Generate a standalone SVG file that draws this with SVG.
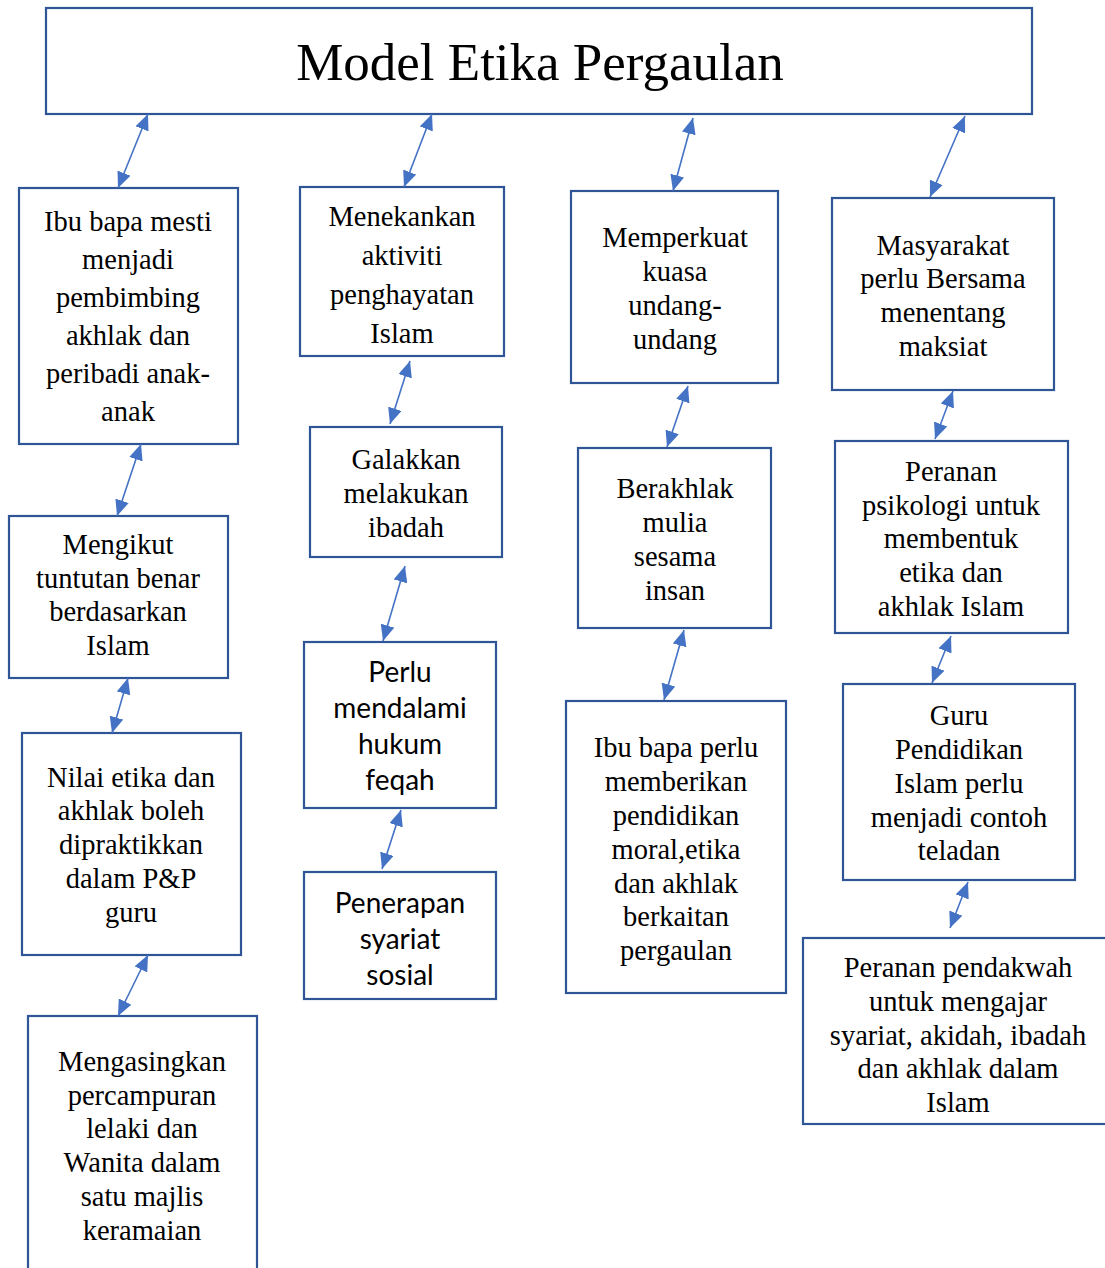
<svg xmlns="http://www.w3.org/2000/svg" width="1105" height="1268" viewBox="0 0 1105 1268">
<style>
.box{fill:#fff;stroke:#2f5597;stroke-width:2.2}
.t{font-family:"Liberation Serif","Times New Roman",serif;font-size:28.5px;fill:#000;text-anchor:middle}
.s{font-family:Lato,"Open Sans",sans-serif;font-size:28px;fill:#000;text-anchor:middle}
.title{font-family:"Liberation Serif","Times New Roman",serif;font-size:53px;fill:#000;text-anchor:middle}
.c{stroke:#4472c4;stroke-width:1.6;fill:none;marker-start:url(#ah);marker-end:url(#ah)}
</style>
<defs>
<marker id="ah" viewBox="0 0 16 14" refX="16" refY="7" markerWidth="16" markerHeight="14" orient="auto-start-reverse" markerUnits="userSpaceOnUse"><path d="M0,0 L16,7 L0,14 z" fill="#4472c4"/></marker>
</defs>
<rect width="1105" height="1268" fill="#fff"/>
<g id="title"><rect class="box" x="46" y="8" width="986" height="106"/><text class="title" x="540" y="80">Model Etika Pergaulan</text></g>

<g id="n1"><rect class="box" x="19" y="188" width="219" height="256"/>
<text class="t" x="128" y="231">Ibu bapa mesti</text><text class="t" x="128" y="269">menjadi</text><text class="t" x="128" y="307">pembimbing</text><text class="t" x="128" y="345">akhlak dan</text><text class="t" x="128" y="383">peribadi anak-</text><text class="t" x="128" y="421">anak</text></g>
<g id="n2"><rect class="box" x="9" y="516" width="219" height="162"/>
<text class="t" x="118" y="554">Mengikut</text><text class="t" x="118" y="588">tuntutan benar</text><text class="t" x="118" y="621">berdasarkan</text><text class="t" x="118" y="655">Islam</text></g>
<g id="n3"><rect class="box" x="22" y="733" width="219" height="222"/>
<text class="t" x="131" y="787">Nilai etika dan</text><text class="t" x="131" y="820">akhlak boleh</text><text class="t" x="131" y="854">dipraktikkan</text><text class="t" x="131" y="888">dalam P&amp;P</text><text class="t" x="131" y="922">guru</text></g>
<g id="n4"><rect class="box" x="28" y="1016" width="229" height="270"/>
<text class="t" x="142" y="1071">Mengasingkan</text><text class="t" x="142" y="1105">percampuran</text><text class="t" x="142" y="1138">lelaki dan</text><text class="t" x="142" y="1172">Wanita dalam</text><text class="t" x="142" y="1206">satu majlis</text><text class="t" x="142" y="1240">keramaian</text></g>

<g id="n5"><rect class="box" x="300" y="187" width="204" height="169"/>
<text class="t" x="402" y="226">Menekankan</text><text class="t" x="402" y="265">aktiviti</text><text class="t" x="402" y="304">penghayatan</text><text class="t" x="402" y="343">Islam</text></g>
<g id="n6"><rect class="box" x="310" y="427" width="192" height="130"/>
<text class="t" x="406" y="469">Galakkan</text><text class="t" x="406" y="503">melakukan</text><text class="t" x="406" y="537">ibadah</text></g>
<g id="n7"><rect class="box" x="304" y="642" width="192" height="166"/>
<text class="s" x="400" y="682">Perlu</text><text class="s" x="400" y="718">mendalami</text><text class="s" x="400" y="754">hukum</text><text class="s" x="400" y="790">feqah</text></g>
<g id="n8"><rect class="box" x="304" y="872" width="192" height="127"/>
<text class="s" x="400" y="913">Penerapan</text><text class="s" x="400" y="949">syariat</text><text class="s" x="400" y="985">sosial</text></g>

<g id="n9"><rect class="box" x="571" y="191" width="207" height="192"/>
<text class="t" x="675" y="247">Memperkuat</text><text class="t" x="675" y="281">kuasa</text><text class="t" x="675" y="315">undang-</text><text class="t" x="675" y="349">undang</text></g>
<g id="n10"><rect class="box" x="578" y="448" width="193" height="180"/>
<text class="t" x="675" y="498">Berakhlak</text><text class="t" x="675" y="532">mulia</text><text class="t" x="675" y="566">sesama</text><text class="t" x="675" y="600">insan</text></g>
<g id="n11"><rect class="box" x="566" y="701" width="220" height="292"/>
<text class="t" x="676" y="757">Ibu bapa perlu</text><text class="t" x="676" y="791">memberikan</text><text class="t" x="676" y="825">pendidikan</text><text class="t" x="676" y="859">moral,etika</text><text class="t" x="676" y="893">dan akhlak</text><text class="t" x="676" y="926">berkaitan</text><text class="t" x="676" y="960">pergaulan</text></g>

<g id="n12"><rect class="box" x="832" y="198" width="222" height="192"/>
<text class="t" x="943" y="255">Masyarakat</text><text class="t" x="943" y="288">perlu Bersama</text><text class="t" x="943" y="322">menentang</text><text class="t" x="943" y="356">maksiat</text></g>
<g id="n13"><rect class="box" x="835" y="441" width="233" height="192"/>
<text class="t" x="951" y="481">Peranan</text><text class="t" x="951" y="515">psikologi untuk</text><text class="t" x="951" y="548">membentuk</text><text class="t" x="951" y="582">etika dan</text><text class="t" x="951" y="616">akhlak Islam</text></g>
<g id="n14"><rect class="box" x="843" y="684" width="232" height="196"/>
<text class="t" x="959" y="725">Guru</text><text class="t" x="959" y="759">Pendidikan</text><text class="t" x="959" y="793">Islam perlu</text><text class="t" x="959" y="827">menjadi contoh</text><text class="t" x="959" y="860">teladan</text></g>
<g id="n15"><rect class="box" x="803" y="938" width="310" height="186"/>
<text class="t" x="958" y="977">Peranan pendakwah</text><text class="t" x="958" y="1011">untuk mengajar</text><text class="t" x="958" y="1045">syariat, akidah, ibadah</text><text class="t" x="958" y="1078">dan akhlak dalam</text><text class="t" x="958" y="1112">Islam</text></g>

<g id="connectors">
<line class="c" x1="148" y1="114" x2="118" y2="188"/>
<line class="c" x1="141" y1="444" x2="117" y2="516"/>
<line class="c" x1="128" y1="678" x2="112" y2="733"/>
<line class="c" x1="148" y1="955" x2="118" y2="1016"/>
<line class="c" x1="432" y1="114" x2="404" y2="187"/>
<line class="c" x1="410" y1="361" x2="390" y2="424"/>
<line class="c" x1="405" y1="566" x2="383" y2="641"/>
<line class="c" x1="401" y1="810" x2="382" y2="869"/>
<line class="c" x1="693" y1="118" x2="673" y2="191"/>
<line class="c" x1="688" y1="386" x2="667" y2="447"/>
<line class="c" x1="684" y1="630" x2="664" y2="700"/>
<line class="c" x1="965" y1="116" x2="930" y2="197"/>
<line class="c" x1="953" y1="391" x2="935" y2="439"/>
<line class="c" x1="951" y1="636" x2="932" y2="683"/>
<line class="c" x1="968" y1="882" x2="950" y2="928"/>
</g>
</svg>
